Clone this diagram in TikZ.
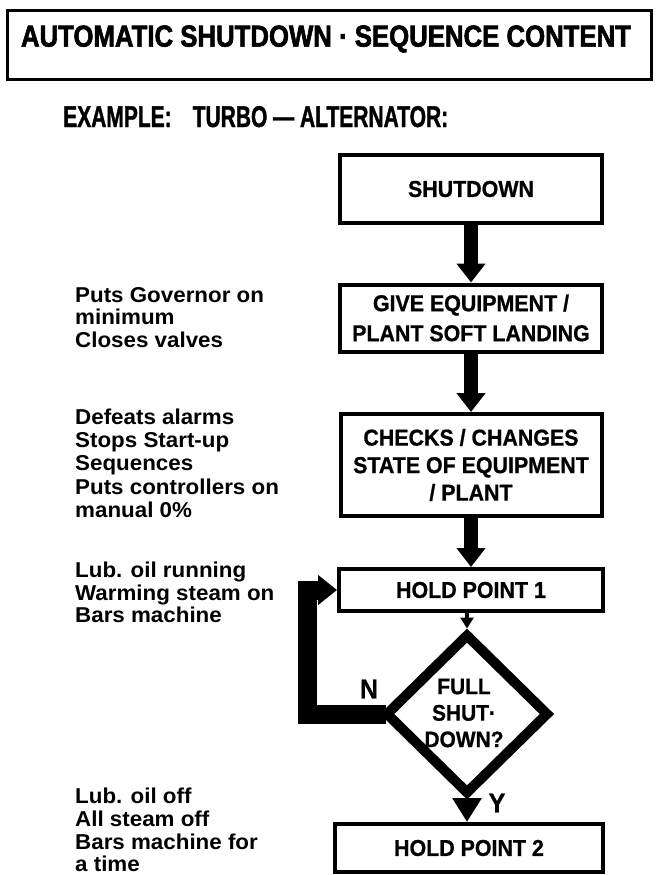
\documentclass[tikz,border=0pt]{standalone}
\usepackage{fontspec}
\setmainfont{Liberation Sans}
\newfontfamily\titlefam[FakeStretch=0.85,FakeBold=2]{Liberation Sans}
\newfontfamily\examplefam[FakeStretch=0.7,FakeBold=1.2]{Liberation Sans}
\newfontfamily\boxfam[FakeStretch=0.93,FakeBold=0.8]{Liberation Sans}
\newfontfamily\notefam[FakeStretch=1.04]{Liberation Sans}
\newcommand\titlef{\titlefam\bfseries\fontsize{30.3}{34}\selectfont}
\newcommand\examplef{\examplefam\bfseries\fontsize{30}{34}\selectfont}
\newcommand\boxf{\boxfam\bfseries\fontsize{23}{28}\selectfont}
\newcommand\notef{\notefam\bfseries\fontsize{21.5}{23}\selectfont}
\usetikzlibrary{arrows.meta,shapes.geometric}
\begin{document}
\begin{tikzpicture}[x=1pt,y=-1pt,
  box/.style={draw, line width=4pt, inner sep=0pt, align=center, font=\boxf},
  bigarrow/.style={line width=14pt, -{Triangle[width=28pt,length=19pt]}},
  note/.style={anchor=base west, inner sep=0pt, font=\notef},
  lbl/.style={inner sep=0pt, font=\boxfam\bfseries\fontsize{27}{30}\selectfont}
]
\useasboundingbox (0,0) rectangle (658,875);
\fill[white] (0,0) rectangle (658,875);

% title
\node[draw, line width=3pt, minimum width=644pt, minimum height=69pt, inner sep=0pt] (titlebox) at (329.5,45) {};
\node[inner sep=0pt, font=\titlef] (title) at (326,39) {AUTOMATIC SHUTDOWN · SEQUENCE CONTENT};
\node[anchor=base west, inner sep=0pt, font=\examplef] (example) at (63,127) {EXAMPLE:\hspace{21pt}TURBO — ALTERNATOR:};

% flow boxes
\node[box, minimum width=262pt, minimum height=68pt] (b1) at (471,189) {SHUTDOWN};
\node[box, minimum width=262pt, minimum height=67pt, font=\boxf\fontsize{23}{30}\selectfont] (b2) at (471,318) {GIVE EQUIPMENT /\\PLANT SOFT LANDING};
\node[box, minimum width=261pt, minimum height=102pt, font=\boxf\fontsize{23}{27.5}\selectfont] (b3) at (471,465) {CHECKS / CHANGES\\STATE OF EQUIPMENT\\/ PLANT};
\node[box, minimum width=264pt, minimum height=42pt] (h1) at (471,590) {HOLD POINT 1};
\node[box, minimum width=268pt, minimum height=48pt] (h2) at (469,848) {HOLD POINT 2};

% decision
\node[draw, diamond, line width=10pt, minimum width=164pt, minimum height=161pt, inner sep=0pt] (dia) at (467,714) {};
\node[inner sep=0pt, align=center, font=\boxf\fontsize{22.5}{26.5}\selectfont] (diatext) at (464,713) {FULL\\SHUT·\\DOWN?};

% connectors
\draw[bigarrow] (b1.south) -- (b2.north);
\draw[bigarrow] (b2.south) -- (b3.north);
\draw[bigarrow] (b3.south) -- (h1.north);
\draw[line width=4pt, -{Triangle[width=13pt,length=11pt]}] (h1.south -| dia.north) -- (dia.north);
\draw[line width=14pt, -{Triangle[width=28pt,length=24pt]}] (dia.south) -- (dia.south |- h2.north);
\coordinate (nstart) at ([xshift=6pt]dia.west);
\coordinate (ncorner) at (307,714);
\draw[line width=19pt, line join=miter, -{Triangle[width=29pt,length=19pt]}] (nstart) -- (ncorner) |- (h1.west);

\node[lbl] (nlabel) at (369,689) {N};
\node[lbl] (ylabel) at (497,803) {Y};

% notes
\node[note] (n1a) at (75,302) {Puts Governor on};
\node[note] (n1b) at (75,324.5) {minimum};
\node[note] (n1c) at (75,347) {Closes valves};
\node[note] (n2a) at (75,424.5) {Defeats alarms};
\node[note] (n2b) at (75,447.5) {Stops Start-up};
\node[note] (n2c) at (75,470.5) {Sequences};
\node[note] (n2d) at (75,494) {Puts controllers on};
\node[note] (n2e) at (75,517) {manual 0\%};
\node[note] (n3a) at (75,577.5) {Lub. oil running};
\node[note] (n3b) at (75,600) {Warming steam on};
\node[note] (n3c) at (75,622.5) {Bars machine};
\node[note] (n4a) at (75,803) {Lub. oil off};
\node[note] (n4b) at (75,826) {All steam off};
\node[note] (n4c) at (75,849) {Bars machine for};
\node[note] (n4d) at (75,871.5) {a time};
\end{tikzpicture}
\end{document}
